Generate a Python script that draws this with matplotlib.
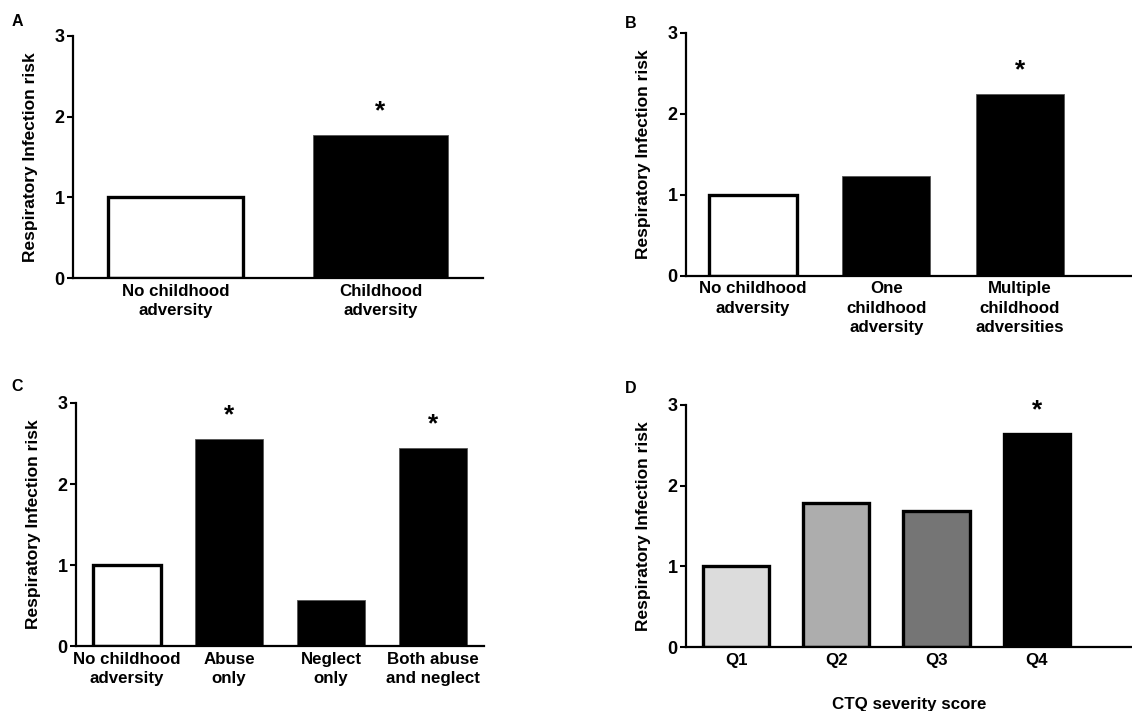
import matplotlib
matplotlib.use("Agg")
import matplotlib.pyplot as plt
import numpy as np

plt.rcParams['font.family'] = ['Liberation Sans', 'DejaVu Sans']
plt.rcParams['font.weight'] = 'bold'

YLABEL = "Respiratory Infection risk"

# panel A
a_labels = ["No childhood\nadversity", "Childhood\nadversity"]
a_values = [1.0, 1.77]
a_colors = ["white", "black"]
a_stars = [False, True]

# panel B
b_labels = ["No childhood\nadversity", "One\nchildhood\nadversity", "Multiple\nchildhood\nadversities"]
b_values = [1.0, 1.23, 2.25]
b_colors = ["white", "black", "black"]
b_stars = [False, False, True]

# panel C
c_labels = ["No childhood\nadversity", "Abuse\nonly", "Neglect\nonly", "Both abuse\nand neglect"]
c_values = [1.0, 2.56, 0.57, 2.45]
c_colors = ["white", "black", "black", "black"]
c_stars = [False, True, False, True]

# panel D
d_labels = ["Q1", "Q2", "Q3", "Q4"]
d_values = [1.0, 1.79, 1.69, 2.64]
d_colors = ["#dcdcdc", "#adadad", "#757575", "black"]
d_stars = [False, False, False, True]


def draw_panel(fig, rect, letter, letter_xy, labels, values, colors, stars,
               xmax, thick_edges=False, xlabel=None):
    ax = fig.add_axes(rect)
    x = np.arange(len(values))
    for xi, v, c in zip(x, values, colors):
        if c == "black" and not thick_edges:
            ax.bar(xi, v, width=0.66, color=c, edgecolor="#555555", linewidth=0.6)
        else:
            ax.bar(xi, v, width=0.66, color=c, edgecolor="black", linewidth=2.4)
    for xi, v, s in zip(x, values, stars):
        if s:
            ax.annotate("*", (xi, v), xytext=(0, 12), textcoords="offset points",
                        ha="center", va="baseline", fontsize=19, fontweight="bold")
    ax.set_xlim(-0.5, xmax)
    ax.set_ylim(0, 3)
    ax.set_yticks([0, 1, 2, 3])
    ax.set_xticks(x)
    ax.set_xticklabels(labels, fontsize=12.2, fontweight="bold", linespacing=1.35)
    ax.tick_params(axis="x", length=0, pad=4)
    ax.tick_params(axis="y", length=4, width=1.5, labelsize=13, pad=2)
    for t in ax.get_yticklabels():
        t.set_fontweight("bold")
    ax.spines["top"].set_visible(False)
    ax.spines["right"].set_visible(False)
    ax.spines["left"].set_linewidth(1.6)
    ax.spines["bottom"].set_linewidth(1.6)
    ax.set_ylabel(YLABEL, fontsize=12.5, fontweight="bold", labelpad=12)
    if xlabel:
        ax.set_xlabel(xlabel, fontsize=12.2, fontweight="bold", labelpad=21)
    fig.text(letter_xy[0], letter_xy[1], letter, fontsize=11.5, fontweight="bold",
             ha="left", va="top")
    return ax


fig = plt.figure(figsize=(11.32, 7.11), dpi=100)

draw_panel(fig, [0.0645, 0.609, 0.3622, 0.3404], "A", (0.010, 0.980),
           a_labels, a_values, a_colors, a_stars, 1.5)
draw_panel(fig, [0.606, 0.612, 0.394, 0.3418], "B", (0.552, 0.977),
           b_labels, b_values, b_colors, b_stars, 2.84)
draw_panel(fig, [0.0671, 0.0914, 0.3605, 0.3418], "C", (0.010, 0.467),
           c_labels, c_values, c_colors, c_stars, 3.5)
draw_panel(fig, [0.606, 0.090, 0.394, 0.3404], "D", (0.552, 0.464),
           d_labels, d_values, d_colors, d_stars, 3.95, thick_edges=True,
           xlabel="CTQ severity score")

fig.savefig("out.png", dpi=100)
